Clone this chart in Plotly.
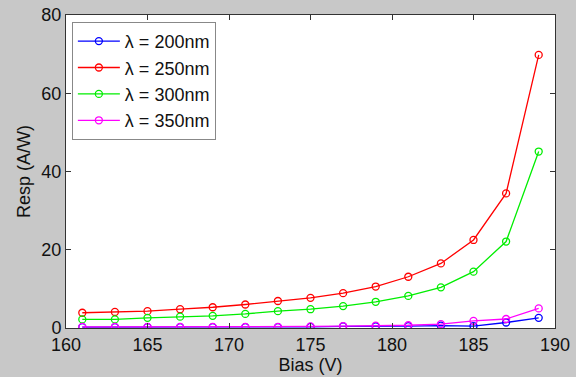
import plotly.graph_objects as go

bias = [161, 163, 165, 167, 169, 171, 173, 175, 177, 179, 181, 183, 185, 187, 189]
resp_200 = [0.2, 0.2, 0.2, 0.2, 0.2, 0.2, 0.2, 0.3, 0.4, 0.4, 0.5, 0.6, 0.5, 1.4, 2.6]
resp_250 = [3.9, 4.1, 4.3, 4.8, 5.3, 6.0, 6.9, 7.7, 8.9, 10.6, 13.1, 16.5, 22.5, 34.4, 69.8]
resp_300 = [2.2, 2.2, 2.6, 2.9, 3.1, 3.6, 4.3, 4.8, 5.6, 6.7, 8.2, 10.4, 14.4, 22.1, 45.1]
resp_350 = [0.3, 0.3, 0.3, 0.3, 0.3, 0.3, 0.3, 0.4, 0.5, 0.6, 0.7, 1.0, 1.8, 2.3, 5.0]

series = [
    ("λ = 200nm", resp_200, "#0000ff"),
    ("λ = 250nm", resp_250, "#ff0000"),
    ("λ = 300nm", resp_300, "#00ee00"),
    ("λ = 350nm", resp_350, "#ff00ff"),
]

fig = go.Figure()
for name, vals, col in series:
    fig.add_trace(go.Scatter(
        x=bias, y=vals, name=name, mode="lines+markers",
        line=dict(color=col, width=1.3),
        marker=dict(symbol="circle-open", size=7, color=col, line=dict(width=1.3, color=col)),
    ))

axis_common = dict(
    showgrid=False, zeroline=False, showline=True, linecolor="#333333", linewidth=1,
    mirror="ticks", ticks="inside", ticklen=5, tickcolor="#333333", automargin=False,
    tickfont=dict(family="Arial, Liberation Sans", size=18, color="#111111"),
)

fig.update_layout(
    width=576, height=377,
    margin=dict(l=66, r=21, t=15, b=49),
    paper_bgcolor="#c8c8c8", plot_bgcolor="#ffffff",
    font=dict(family="Arial, Liberation Sans", size=18, color="#111111"),
    xaxis=dict(range=[160, 190], tickvals=[160, 165, 170, 175, 180, 185, 190],
               title=dict(text="Bias (V)", font=dict(size=18), standoff=0), **axis_common),
    yaxis=dict(range=[0, 80], tickvals=[0, 20, 40, 60, 80],
               title=dict(text="Resp (A/W)", font=dict(size=18), standoff=6), **axis_common),
    legend=dict(x=0.012, y=0.978, xanchor="left", yanchor="top",
                bgcolor="#ffffff", bordercolor="#888888", borderwidth=1,
                font=dict(size=18), itemwidth=42, tracegroupgap=0),
    showlegend=True,
)

fig.write_html("out.html", config={"displayModeBar": False},
               post_script="document.body.style.margin='0px';document.body.style.overflow='hidden';")
